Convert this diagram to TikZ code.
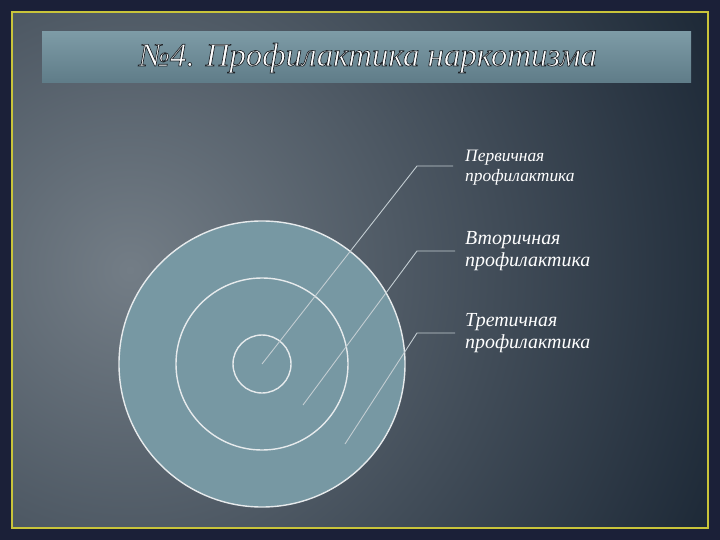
\documentclass[tikz,border=0pt]{standalone}
\usepackage{fontspec}
\setmainfont{Liberation Serif}
\newcommand{\outlinetext}[1]{\special{pdf:literal direct 2 Tr 0.7 w 0.12 0.14 0.16 RG}#1\special{pdf:literal direct 0 Tr}}
\begin{document}
\begin{tikzpicture}[x=1bp,y=-1bp,
  ring/.style={circle,draw=ringline,line width=1.4bp,inner sep=0pt},
  leader/.style={draw=leadline,line width=0.9bp},
  lbl/.style={anchor=west,text=white,font=\itshape,align=left,inner sep=0pt}]
\definecolor{frame}{HTML}{1B2038}
\definecolor{bgin}{HTML}{737D86}
\definecolor{bgout}{HTML}{1C2836}
\definecolor{bartop}{HTML}{7D9BA6}
\definecolor{barbot}{HTML}{5F7C88}
\definecolor{ringfill}{HTML}{7798A3}
\definecolor{ringline}{HTML}{E6EAEC}
\definecolor{leadline}{HTML}{C3CDD2}
\definecolor{yel}{HTML}{C9C43A}
\useasboundingbox (0,0) rectangle (720,540);
\fill[frame] (0,0) rectangle (720,540);
\begin{scope}
\clip (12,12) rectangle (708,528);
\shade[inner color=bgin,outer color=bgout] (130,270) circle (640);
\end{scope}
\draw[yel,line width=1.5bp] (12,12) rectangle (708,528);
\shade[top color=bartop,bottom color=barbot] (42,32) rectangle (691,83);
\node[font=\itshape\fontsize{33}{36}\selectfont,text=white] (title) at (368,58) {\outlinetext{№4. Профилактика наркотизма}};
% circles
\node[ring,fill=ringfill,minimum size=286bp] (outer) at (262,364) {};
\node[ring,minimum size=172bp] (mid) at (262,364) {};
\node[ring,minimum size=58bp] (inner) at (262,364) {};
% label texts
\node[lbl,font=\itshape\fontsize{17.5}{20}\selectfont] (l1) at (465,168) {Первичная\\профилактика};
\node[lbl,font=\itshape\fontsize{20}{22}\selectfont] (l2) at (465,251) {Вторичная\\профилактика};
\node[lbl,font=\itshape\fontsize{20}{22}\selectfont] (l3) at (465,333) {Третичная\\профилактика};
% leader lines
\coordinate (p1) at (262,364);
\coordinate (p2) at (303,405);
\coordinate (p3) at (345,444);
\coordinate (e1) at (417,166);
\coordinate (e2) at (417,251);
\coordinate (e3) at (417,333);
\coordinate (h1) at (453,166);
\coordinate (h2) at (455,251);
\coordinate (h3) at (455,333);
\draw[leader] (p1) -- (e1) -- (h1);
\draw[leader] (p2) -- (e2) -- (h2);
\draw[leader] (p3) -- (e3) -- (h3);
\end{tikzpicture}
\end{document}
